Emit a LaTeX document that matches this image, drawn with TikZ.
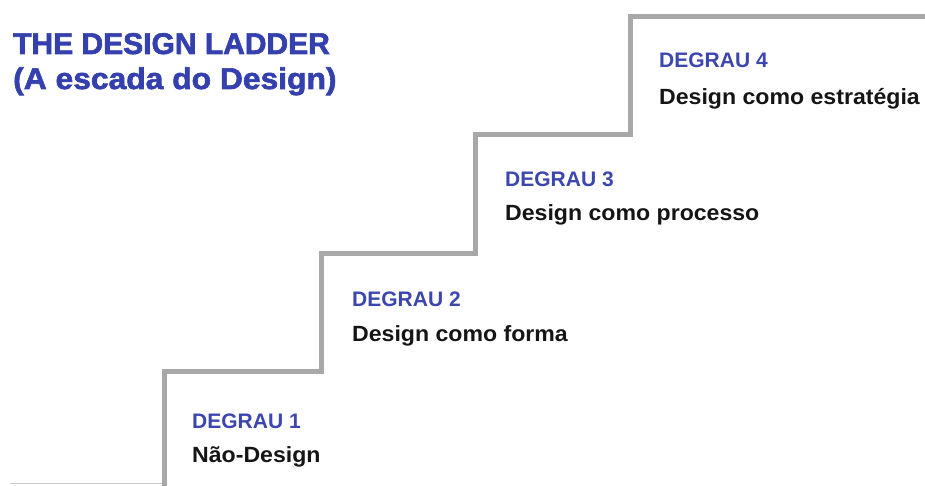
\documentclass[tikz,border=0pt]{standalone}
\usepackage{fontspec}
\setmainfont{Liberation Sans}
\newfontfamily\titlefont[FakeBold=2]{Liberation Sans Bold}
\newfontfamily\titlefontwide[FakeBold=2,FakeStretch=1.06]{Liberation Sans Bold}
\newfontfamily\labfont{Liberation Sans Bold}
\newfontfamily\descfont[FakeStretch=1.05]{Liberation Sans Bold}
\definecolor{ttlblue}{HTML}{3440AD}
\definecolor{lblblue}{HTML}{3C46AF}
\definecolor{stairgray}{HTML}{A8A8A8}
\definecolor{desctext}{HTML}{151515}
\tikzset{
  title/.style={anchor=base west, inner sep=0pt, text=ttlblue, font=\titlefont\fontsize{30}{35}\selectfont},
  titlewide/.style={title, font=\titlefontwide\fontsize{30}{35}\selectfont},
  steplabel/.style={anchor=base west, inner sep=0pt, text=lblblue, font=\labfont\fontsize{21}{25}\selectfont},
  stepdesc/.style={anchor=base west, inner sep=0pt, text=desctext, font=\descfont\fontsize{22}{26}\selectfont},
  stairline/.style={draw=stairgray, line width=5pt, line join=miter},
}
\begin{document}
\begin{tikzpicture}[x=1pt, y=-1pt]
  \useasboundingbox[fill=white] (0,0) rectangle (925,486);
  % stair corners
  \coordinate (s0) at (164,487);
  \coordinate (s1) at (164,371);
  \coordinate (s2) at (321,371);
  \coordinate (s3) at (321,253);
  \coordinate (s4) at (475,253);
  \coordinate (s5) at (475,134.5);
  \coordinate (s6) at (630,134.5);
  \coordinate (s7) at (630,17);
  \coordinate (s8) at (926,17);
  \coordinate (b0) at (10,483.5);
  \coordinate (b1) at (162,483.5);
  \draw[stairgray!60, line width=1pt] (b0) -- (b1);
  \draw[stairline] (s0) -- (s1) -- (s2) -- (s3) -- (s4) -- (s5) -- (s6) -- (s7) -- (s8);
  % title
  \node[title] (t1) at (13,54) {THE DESIGN LADDER};
  \node[titlewide] (t2) at (13,89) {(A escada do Design)};
  % steps
  \node[steplabel] (l1) at (192,428) {DEGRAU 1};
  \node[stepdesc] (d1) at (192,462) {Não-Design};
  \node[steplabel] (l2) at (352,306) {DEGRAU 2};
  \node[stepdesc] (d2) at (352,341) {Design como forma};
  \node[steplabel] (l3) at (505,187) {DEGRAU 3};
  \node[stepdesc] (d3) at (505,221) {Design como processo};
  \node[steplabel] (l4) at (659,68) {DEGRAU 4};
  \node[stepdesc] (d4) at (659,105) {Design como estratégia};
\end{tikzpicture}
\end{document}
